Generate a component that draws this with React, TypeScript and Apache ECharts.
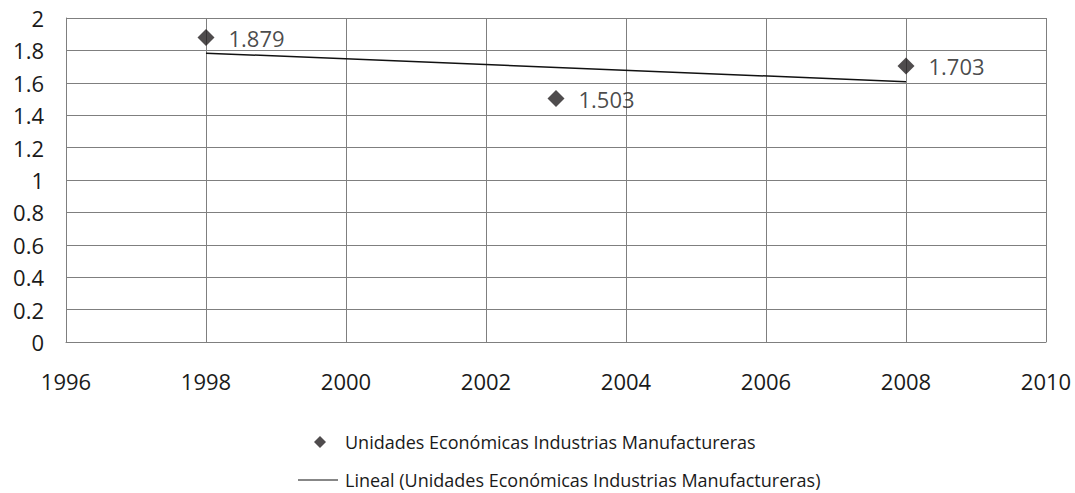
import React, { useEffect, useRef } from "react";
import * as echarts from "echarts";

const years = [1998, 2003, 2008];
const values = [1.879, 1.503, 1.703];
const xTicks = [1996, 1998, 2000, 2002, 2004, 2006, 2008, 2010];
const seriesName = "Unidades Económicas Industrias Manufactureras";
const trendName = "Lineal (Unidades Económicas Industrias Manufactureras)";

function linearFit(xs: number[], ys: number[]) {
  const n = xs.length;
  const mx = xs.reduce((a, b) => a + b, 0) / n;
  const my = ys.reduce((a, b) => a + b, 0) / n;
  let num = 0;
  let den = 0;
  for (let i = 0; i < n; i++) {
    num += (xs[i] - mx) * (ys[i] - my);
    den += (xs[i] - mx) * (xs[i] - mx);
  }
  const slope = num / den;
  return (x: number) => my + slope * (x - mx);
}

export default function App() {
  const ref = useRef<HTMLDivElement>(null);
  useEffect(() => {
    if (!ref.current) return;
    const chart = echarts.init(ref.current, undefined, { renderer: "svg" });
    const fit = linearFit(years, values);
    const x0 = years[0];
    const x1 = years[years.length - 1];
    const font = "'Open Sans', sans-serif";
    const gridColor = "#7f7f7f";
    const textColor = "#1a1a1a";
    chart.setOption({
      animation: false,
      backgroundColor: "#ffffff",
      textStyle: { fontFamily: font, color: textColor },
      grid: { left: 66, top: 18, right: 29, bottom: 151, containLabel: false },
      xAxis: {
        type: "value",
        min: xTicks[0],
        max: xTicks[xTicks.length - 1],
        interval: 2,
        axisLine: { show: true, lineStyle: { color: gridColor, width: 1 } },
        axisTick: { show: false },
        splitLine: { show: true, lineStyle: { color: gridColor, width: 1 } },
        axisLabel: {
          fontSize: 22,
          color: textColor,
          margin: 28,
          fontFamily: font,
          formatter: (v: number) => String(v),
        },
      },
      yAxis: {
        type: "value",
        min: 0,
        max: 2,
        interval: 0.2,
        axisLine: { show: true, lineStyle: { color: gridColor, width: 1 } },
        axisTick: { show: false },
        splitLine: { show: true, lineStyle: { color: gridColor, width: 1 } },
        axisLabel: {
          fontSize: 22,
          color: textColor,
          margin: 22,
          fontFamily: font,
          formatter: (v: number) => String(parseFloat(v.toFixed(1))),
        },
      },
      legend: [
        {
          left: 314,
          top: 433,
          padding: 0,
          itemWidth: 12,
          itemHeight: 12,
          textStyle: {
            fontSize: 18,
            color: textColor,
            fontFamily: font,
            padding: [0, 0, 0, 14],
          },
          data: [{ name: seriesName, icon: "diamond" }],
        },
        {
          left: 298,
          top: 471,
          padding: 0,
          itemWidth: 40,
          itemHeight: 1.2,
          textStyle: {
            fontSize: 18,
            color: textColor,
            fontFamily: font,
            padding: [0, 0, 0, 2],
          },
          data: [{ name: trendName, icon: "rect" }],
        },
      ],
      series: [
        {
          name: trendName,
          type: "line",
          symbol: "none",
          data: [
            [x0, fit(x0)],
            [x1, fit(x1)],
          ],
          lineStyle: { color: "#111111", width: 1.5 },
          itemStyle: { color: "#111111" },
          z: 2,
        },
        {
          name: seriesName,
          type: "scatter",
          symbol: "diamond",
          symbolSize: 17,
          itemStyle: { color: "#231f20" },
          data: years.map((y, i) => [y, values[i]]),
          label: {
            show: true,
            position: "right",
            distance: 14,
            fontSize: 22,
            color: textColor,
            fontFamily: font,
            formatter: (p: any) => values[p.dataIndex].toFixed(3),
          },
          z: 3,
        },
      ],
    });
    return () => chart.dispose();
  }, []);
  return (
    <div
      ref={ref}
      style={{ position: "fixed", left: 0, top: 0, width: 1075, height: 493 }}
    />
  );
}
